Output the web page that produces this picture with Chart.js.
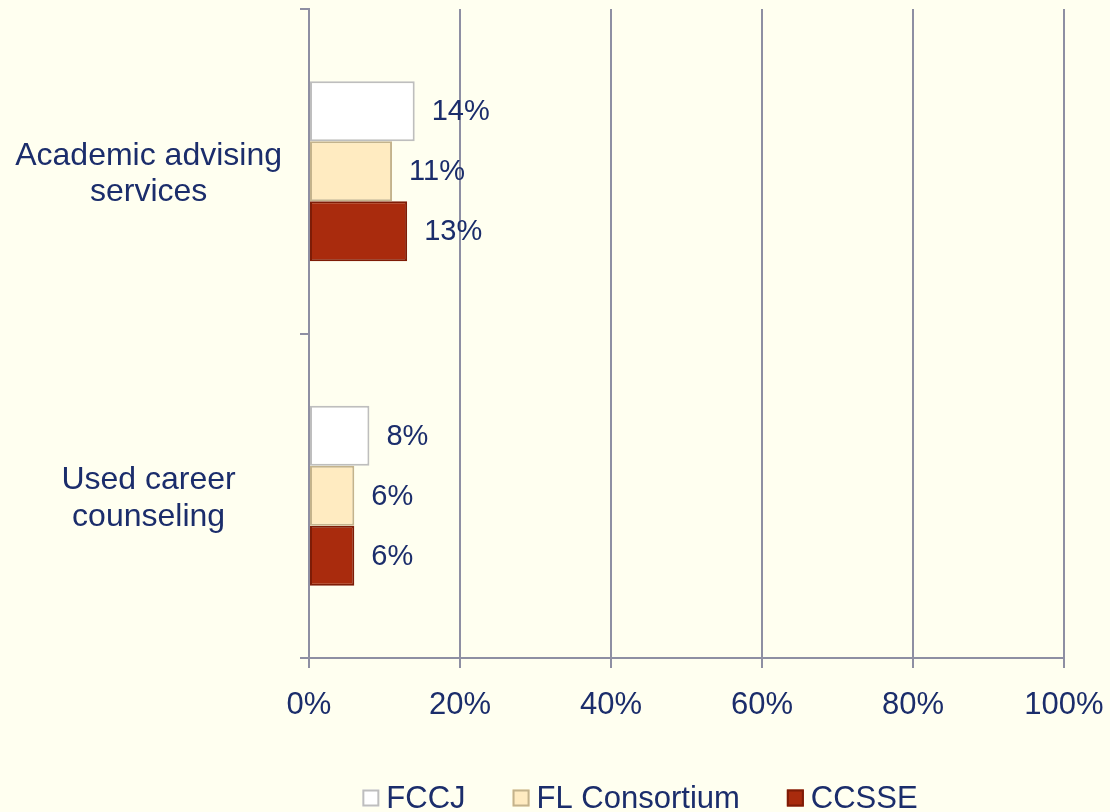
<!DOCTYPE html>
<html>
<head>
<meta charset="utf-8">
<script src="https://cdn.jsdelivr.net/npm/chart.js@4.4.1/dist/chart.umd.min.js"></script>
<style>
  html, body { margin: 0; padding: 0; background: #FFFFF0; }
  #wrap { width: 1110px; height: 812px; position: relative; }
</style>
</head>
<body>
<div id="wrap"><canvas id="c" width="1110" height="812"></canvas></div>
<script>
const categories = [["Academic advising", "services"], ["Used career", "counseling"]];
const seriesNames = ["FCCJ", "FL Consortium", "CCSSE"];
const fccj = [14, 8];
const flConsortium = [11, 6];
const ccsse = [13, 6];
const xTicks = [0, 20, 40, 60, 80, 100];

const TEXT = '#1B2D6B';
const GRID = '#8E8FA3';
const FONT = "Arial, 'Liberation Sans', sans-serif";
const fills = ['#FFFFFF', '#FFEBC1', '#A92B0D'];
const borders = ['#BEBEBE', '#C4B38C', '#7E1C06'];

const labelPlugin = {
  id: 'valueLabels',
  afterDatasetsDraw(chart) {
    const ctx = chart.ctx;
    ctx.save();
    ctx.font = '29px ' + FONT;
    ctx.fillStyle = TEXT;
    ctx.textAlign = 'left';
    ctx.textBaseline = 'middle';
    chart.data.datasets.forEach((ds, i) => {
      const meta = chart.getDatasetMeta(i);
      meta.data.forEach((el, j) => {
        ctx.fillText(ds.data[j] + '%', el.x + 17, el.y + 1);
      });
    });
    ctx.restore();
  }
};

const legendPlugin = {
  id: 'customLegend',
  afterDraw(chart) {
    const ctx = chart.ctx;
    ctx.save();
    ctx.font = '31px ' + FONT;
    ctx.textBaseline = 'middle';
    ctx.textAlign = 'left';
    const box = 17, gapText = 7, gapItem = 47;
    const widths = chart.data.datasets.map(ds => box + gapText + ctx.measureText(ds.label).width);
    const total = widths.reduce((a, b) => a + b, 0) + gapItem * (widths.length - 1);
    let x = 640 - total / 2;
    const yc = 798;
    chart.data.datasets.forEach((ds, i) => {
      ctx.fillStyle = ds.backgroundColor;
      ctx.fillRect(x, yc - box / 2, box, box);
      ctx.strokeStyle = ds.borderColor;
      ctx.lineWidth = 2;
      ctx.strokeRect(x + 1, yc - box / 2 + 1, box - 2, box - 2);
      ctx.fillStyle = TEXT;
      ctx.fillText(ds.label, x + box + gapText, yc + 1);
      x += widths[i] + gapItem;
    });
    ctx.restore();
  }
};

const bgPlugin = {
  id: 'bg',
  beforeDraw(chart) {
    const ctx = chart.ctx;
    ctx.save();
    ctx.fillStyle = '#FFFFF0';
    ctx.fillRect(0, 0, chart.width, chart.height);
    ctx.restore();
  }
};

new Chart(document.getElementById('c'), {
  type: 'bar',
  data: {
    labels: categories,
    datasets: [
      { label: seriesNames[0], data: fccj, backgroundColor: fills[0], borderColor: borders[0] },
      { label: seriesNames[1], data: flConsortium, backgroundColor: fills[1], borderColor: borders[1] },
      { label: seriesNames[2], data: ccsse, backgroundColor: fills[2], borderColor: borders[2] }
    ].map(d => Object.assign(d, { borderWidth: 2, borderSkipped: false, barPercentage: 1, categoryPercentage: 0.555 }))
  },
  options: {
    indexAxis: 'y',
    responsive: false,
    animation: false,
    layout: { padding: { left: 10, right: 46, top: 9, bottom: 0 } },
    plugins: { legend: { display: false }, tooltip: { enabled: false } },
    scales: {
      x: {
        min: 0, max: 100,
        afterBuildTicks(scale) { scale.ticks = xTicks.map(v => ({ value: v })); },
        afterFit(scale) { scale.height = 154; scale.paddingLeft = 0; scale.paddingRight = 0; },
        ticks: {
          callback: v => v + '%',
          color: TEXT,
          font: { family: FONT, size: 31 },
          padding: 19,
          maxRotation: 0
        },
        grid: { color: GRID, lineWidth: 2, tickLength: 10, tickColor: GRID },
        border: { color: GRID, width: 2 }
      },
      y: {
        afterFit(scale) { scale.width = 299; scale.paddingTop = 0; scale.paddingBottom = 0; },
        ticks: {
          color: TEXT,
          font: { family: FONT, size: 32, lineHeight: 1.15 },
          padding: 18,
          labelOffset: 3,
          crossAlign: 'center'
        },
        grid: { drawOnChartArea: false, color: GRID, lineWidth: 2, tickLength: 9, offset: true },
        border: { color: GRID, width: 2 }
      }
    }
  },
  plugins: [bgPlugin, labelPlugin, legendPlugin]
});
</script>
</body>
</html>
